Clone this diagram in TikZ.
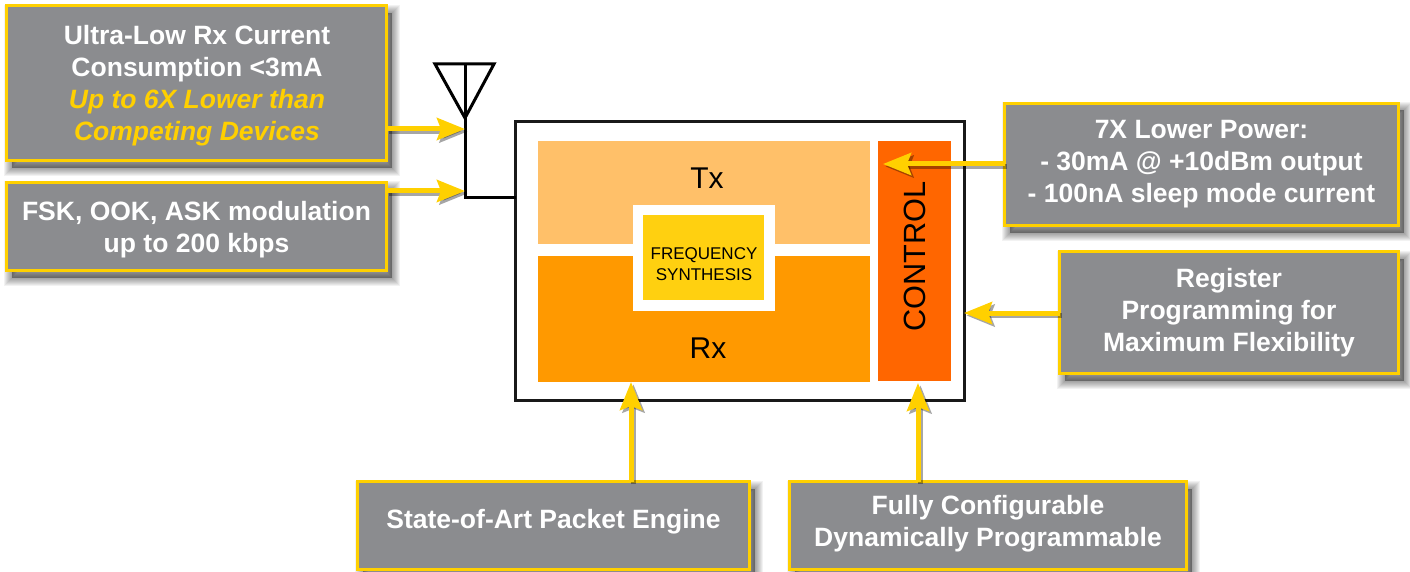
\documentclass[tikz,border=0pt]{standalone}
\usepackage{fontspec}
\setmainfont{Liberation Sans}
\usetikzlibrary{arrows.meta,calc}
\definecolor{boxgray}{HTML}{8B8C8F}
\definecolor{goldline}{HTML}{FFD000}
\definecolor{txfill}{HTML}{FFC069}
\definecolor{rxfill}{HTML}{FF9900}
\definecolor{ctlfill}{HTML}{FF6600}
\definecolor{synfill}{HTML}{FFD010}
\newcommand{\goldtext}[1]{{\color{goldline}\itshape #1}}
\tikzset{
  shadowlayer/.style={preaction={draw=black,draw opacity=0.05,line width=#1,fill=black,fill opacity=0.05,transform canvas={xshift=5pt,yshift=-7pt}}},
  softshadow/.style={shadowlayer=16pt,shadowlayer=14pt,shadowlayer=12pt,shadowlayer=10pt,shadowlayer=8pt,shadowlayer=6pt,shadowlayer=4pt,shadowlayer=2pt},
  callout/.style={softshadow,draw=goldline,fill=boxgray,line width=3pt,inner sep=0pt,outer sep=0pt},
  callouttext/.style={inner sep=0pt,text=white,align=center,font=\bfseries\fontsize{26.5}{32}\selectfont},
  block/.style={inner sep=0pt,outer sep=0pt,align=center},
  antenna/.style={draw=black,line width=3pt,line join=miter},
  feed/.style={goldline,line width=5pt,-{Stealth[length=28pt,width=22pt,inset=4pt]}},
  feedshadow/.style={black,opacity=0.35,line width=5pt,-{Stealth[length=28pt,width=22pt,inset=4pt]},transform canvas={xshift=2.5pt,yshift=-2.5pt}}
}
\begin{document}
\begin{tikzpicture}[x=1pt,y=-1pt]
\useasboundingbox (0,0) rectangle (1410,572);
\fill[white] (0,0) rectangle (1410,572);

% chip outline and inner blocks
\node[block,draw=black!90,line width=3pt,minimum width=449pt,minimum height=279pt] (chip) at (740,261) {};
\node[block,fill=txfill,minimum width=332pt,minimum height=103pt] (tx) at (704,192.5) {};
\node[block,fill=rxfill,minimum width=332pt,minimum height=126pt] (rx) at (704,319) {};
\node[block,fill=ctlfill,minimum width=73pt,minimum height=240pt] (ctl) at (914.5,261) {};
\node[block,fill=white,minimum width=142pt,minimum height=106pt] (synback) at (704,258) {};
\node[block,fill=synfill,minimum width=121pt,minimum height=85pt] (syn) at (703.5,257.5) {};
\node[block,font=\fontsize{17}{20.5}\selectfont] (synl) at (704,264) {FREQUENCY\\SYNTHESIS};
\node[block,font=\fontsize{30}{32}\selectfont] (txl) at (707,178.5) {Tx};
\node[block,font=\fontsize{30}{32}\selectfont] (rxl) at (708,348) {Rx};
\node[block,rotate=90,font=\fontsize{30.7}{32}\selectfont] (ctll) at (915,256.5) {CONTROL};

% callouts
\node[callout,minimum width=380pt,minimum height=155pt] (c1) at (196.5,83.5) {};
\node[callouttext] (c1t) at (197,85.5) {Ultra-Low Rx Current\\Consumption <3mA\\\goldtext{Up to 6X Lower than}\\\goldtext{Competing Devices}};
\node[callout,minimum width=380pt,minimum height=88pt] (c2) at (196.5,226.5) {};
\node[callouttext] (c2t) at (196.5,229.5) {FSK, OOK, ASK modulation\\up to 200 kbps};
\node[callout,minimum width=394pt,minimum height=122pt] (c3) at (1201.5,164.5) {};
\node[callouttext] (c3t) at (1201.5,164.5) {7X Lower Power:\\- 30mA @ +10dBm output\\- 100nA sleep mode current};
\node[callout,minimum width=339pt,minimum height=122pt] (c4) at (1229,312.5) {};
\node[callouttext] (c4t) at (1229,312.5) {Register\\Programming for\\Maximum Flexibility};
\node[callout,minimum width=392pt,minimum height=88pt] (c5) at (553.5,525.5) {};
\node[callouttext] (c5t) at (553.5,522) {State-of-Art Packet Engine};
\node[callout,minimum width=397pt,minimum height=88pt] (c6) at (988,525.5) {};
\node[callouttext] (c6t) at (988,523.5) {Fully Configurable\\Dynamically Programmable};

% antenna
\coordinate (anttop) at (465,64);
\coordinate (antl) at (435,64);
\coordinate (antr) at (494,64);
\coordinate (anttip) at (465,118);
\coordinate (antfoot) at (465,197.5);
\draw[antenna] (antl) -- (antr) -- (anttip) -- cycle;
\draw[antenna] (anttop) -- (antfoot) -- (antfoot -| chip.west);

% targets
\coordinate (t1) at (465,129);
\coordinate (t2) at (465,191);
\coordinate (t3) at (883,164);
\coordinate (t4) at (964,313);
\coordinate (t5) at (631,382);
\coordinate (t6) at (918,383);

% connector shadows
\draw[feedshadow] (t1 -| c1.east) -- (t1);
\draw[feedshadow] (t2 -| c2.east) -- (t2);
\draw[feedshadow] (t3 -| c3.west) -- (t3);
\draw[feedshadow] (t4 -| c4.west) -- (t4);
\draw[feedshadow] (t5 |- c5.north) -- (t5);
\draw[feedshadow] (t6 |- c6.north) -- (t6);
% connectors
\draw[feed] (t1 -| c1.east) -- (t1);
\draw[feed] (t2 -| c2.east) -- (t2);
\draw[feed] (t3 -| c3.west) -- (t3);
\draw[feed] (t4 -| c4.west) -- (t4);
\draw[feed] (t5 |- c5.north) -- (t5);
\draw[feed] (t6 |- c6.north) -- (t6);
\end{tikzpicture}
\end{document}
